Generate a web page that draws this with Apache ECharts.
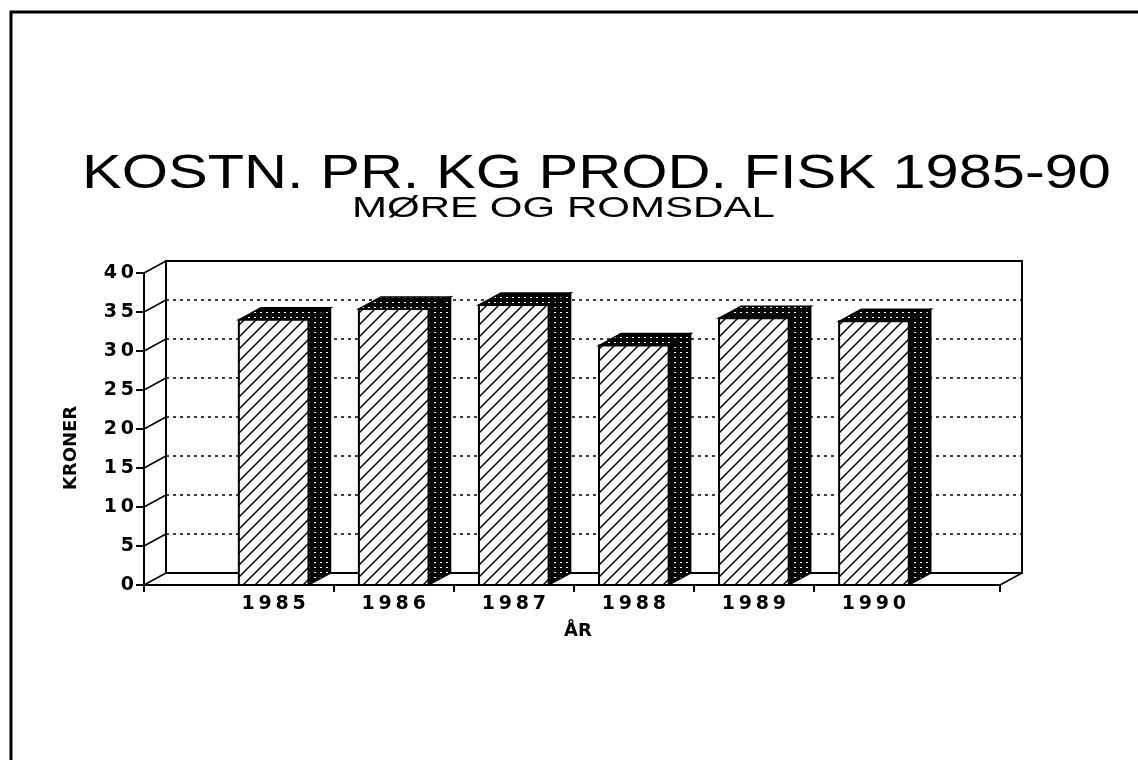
<!DOCTYPE html>
<html>
<head>
    <meta charset="utf-8" />
    <title>KOSTN. PR. KG PROD. FISK 1985-90</title>
    <script src="https://cdn.jsdelivr.net/npm/echarts@6/dist/echarts.min.js"></script>
    <style>
        html, body { margin: 0; padding: 0; background: #fff; }
        #main { width: 1138px; height: 760px; }
    </style>
</head>
<body>
    <div id="main"></div>
</body>
</html>
<script>
    // data
    var years = ['1985', '1986', '1987', '1988', '1989', '1990'];
    var kroner = [34.0, 35.4, 35.9, 30.7, 34.2, 33.8];
    var yTicks = [0, 5, 10, 15, 20, 25, 30, 35, 40];

    // x axis runs in "band" units, band i centred on i
    var xMin = -1.08, xMax = 6.05;
    var DX = 22, DY = -12;   // depth of the fake 3d

    function spaced(s) { return String(s).split('').join('\u2009'); }

    // hatch for the front faces
    function makeHatch() {
        var c = document.createElement('canvas');
        c.width = 12; c.height = 12;
        var g = c.getContext('2d');
        g.fillStyle = '#fff'; g.fillRect(0, 0, 12, 12);
        g.strokeStyle = '#000'; g.lineWidth = 1.5;
        g.beginPath();
        g.moveTo(-1, 13); g.lineTo(13, -1);
        g.moveTo(-7, 7); g.lineTo(7, -7);
        g.moveTo(5, 19); g.lineTo(19, 5);
        g.stroke();
        return c;
    }
    // black with white specks for side and top
    function makeDots() {
        var c = document.createElement('canvas');
        c.width = 6; c.height = 5;
        var g = c.getContext('2d');
        g.fillStyle = '#000'; g.fillRect(0, 0, 6, 5);
        g.fillStyle = '#fff'; g.fillRect(2, 2, 2, 1);
        return c;
    }
    var hatch = { image: makeHatch(), repeat: 'repeat' };
    var dots = { image: makeDots(), repeat: 'repeat' };

    var barData = kroner.map(function (v, i) { return [i, v]; });
    var linkData = yTicks.map(function (v) { return [xMin, v]; });
    linkData.push([xMax, 0]);

    function renderBar(params, api) {
        var i = api.value(0), v = api.value(1);
        var base = api.coord([i, 0]);
        var top = api.coord([i, v]);
        var w = api.size([0.58, 0])[0];
        var x0 = base[0] - w / 2, x1 = base[0] + w / 2, y0 = base[1], y1 = top[1];
        return {
            type: 'group',
            children: [
                { type: 'polygon', shape: { points: [[x1, y1], [x1 + DX, y1 + DY], [x1 + DX, y0 + DY], [x1, y0]] },
                  style: { fill: dots, stroke: '#000', lineWidth: 1.5 } },
                { type: 'polygon', shape: { points: [[x0, y1], [x0 + DX, y1 + DY], [x1 + DX, y1 + DY], [x1, y1]] },
                  style: { fill: dots, stroke: '#000', lineWidth: 1.5 } },
                { type: 'rect', shape: { x: x0, y: y1, width: w, height: y0 - y1 },
                  style: { fill: hatch, stroke: '#000', lineWidth: 2 } }
            ]
        };
    }

    function renderLink(params, api) {
        var p = api.coord([api.value(0), api.value(1)]);
        return {
            type: 'line',
            shape: { x1: p[0], y1: p[1], x2: p[0] + DX, y2: p[1] + DY },
            style: { stroke: '#000', lineWidth: 1.5 }
        };
    }

    var labelFont = { fontFamily: 'DejaVu Sans', fontWeight: 'bold', fontSize: 19, color: '#000' };
    var nameFont = { fontFamily: 'DejaVu Sans', fontWeight: 'bold', fontSize: 18, color: '#000' };

    var chart = echarts.init(document.getElementById('main'));
    var option = {
        backgroundColor: '#fff',
        animation: false,
        tooltip: { show: false },
        graphic: [
            { type: 'polyline', silent: true, shape: { points: [[11, 760], [11, 12], [1138, 12]] },
              style: { stroke: '#000', lineWidth: 3, fill: null } },
            { type: 'text', silent: true, x: 82, y: 174, scaleX: 1.215,
              style: { text: 'KOSTN. PR. KG PROD. FISK 1985-90', font: '49px "Liberation Sans"', fill: '#000', verticalAlign: 'middle' } },
            { type: 'text', silent: true, x: 352, y: 209, scaleX: 1.45,
              style: { text: 'MØRE OG ROMSDAL', font: '29px "Liberation Sans"', fill: '#000', verticalAlign: 'middle' } }
        ],
        grid: [
            { left: 144, top: 273, width: 856, height: 312 },
            { left: 166, top: 261, width: 856, height: 312, show: true, borderColor: '#000', borderWidth: 2, backgroundColor: 'transparent' }
        ],
        xAxis: [
            {
                gridIndex: 0, type: 'value', min: xMin, max: xMax,
                name: 'ÅR', nameLocation: 'middle', nameGap: 37,
                nameTextStyle: Object.assign({ padding: [0, 0, 0, 12] }, nameFont),
                axisLine: { onZero: false, lineStyle: { color: '#000', width: 2 } },
                axisTick: { length: 7, lineStyle: { color: '#000', width: 2 }, customValues: [xMin, 0.5, 1.5, 2.5, 3.5, 4.5, xMax] },
                axisLabel: Object.assign({ margin: 10, customValues: [0, 1, 2, 3, 4, 5],
                    formatter: function (v) { return spaced(years[Math.round(v)]); } }, labelFont),
                splitLine: { show: false },
                axisPointer: { show: false }
            },
            { gridIndex: 1, type: 'value', min: xMin, max: xMax, show: false, axisLine: { onZero: false } }
        ],
        yAxis: [
            {
                gridIndex: 0, type: 'value', min: 0, max: 40, interval: 5,
                name: 'KRONER', nameLocation: 'middle', nameGap: 64, nameRotate: 90,
                nameTextStyle: Object.assign({ padding: [0, 38, 0, 0] }, nameFont),
                axisLine: { show: true, onZero: false, lineStyle: { color: '#000', width: 2 } },
                axisTick: { show: true, length: 8, lineStyle: { color: '#000', width: 2 } },
                axisLabel: Object.assign({ margin: 10, formatter: function (v) { return spaced(v); } }, labelFont),
                splitLine: { show: false },
                axisPointer: { show: false }
            },
            {
                gridIndex: 1, type: 'value', min: 0, max: 40, interval: 5,
                axisLine: { show: false, onZero: false }, axisTick: { show: false }, axisLabel: { show: false },
                splitLine: { show: true, lineStyle: { color: '#000', width: 1.6, type: [3, 4] } }
            }
        ],
        series: [
            { type: 'custom', name: 'links', xAxisIndex: 0, yAxisIndex: 0, renderItem: renderLink, data: linkData,
              silent: true, label: { show: false }, labelLine: { show: false } },
            { type: 'custom', name: 'KRONER', xAxisIndex: 0, yAxisIndex: 0, renderItem: renderBar, data: barData, z: 3,
              silent: true, label: { show: false }, labelLine: { show: false } }
        ]
    };
    chart.setOption(option);
</script>
